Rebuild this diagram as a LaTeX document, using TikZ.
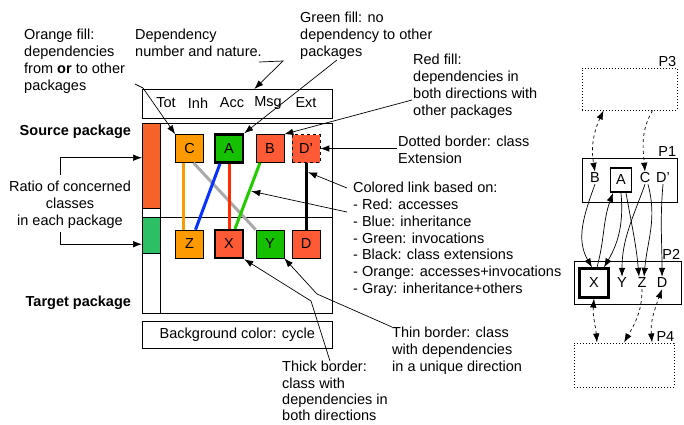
\documentclass[tikz,border=0pt]{standalone}
\usepackage{fontspec}
\setmainfont{Liberation Sans}
\usetikzlibrary{arrows.meta,positioning,calc}
\definecolor{cor}{HTML}{FF9900}
\definecolor{cgr}{HTML}{15C000}
\definecolor{cred}{HTML}{FF5A36}
\definecolor{barred}{HTML}{F5622A}
\definecolor{bargr}{HTML}{2CBF64}
\definecolor{lgray}{HTML}{AAAAAA}
\definecolor{lblue}{HTML}{0A32FF}
\definecolor{lred}{HTML}{FF2A00}
\definecolor{lgreen}{HTML}{22CC00}
\tikzset{
  >={Latex[length=9pt,width=6.5pt]},
  cls/.style={draw,line width=0.6pt,minimum size=28pt,inner sep=0pt},
  tcls/.style={cls,line width=2.4pt},
  xcls/.style={cls,dashed},
  note/.style={align=left,inner sep=0pt,anchor=north west},
  arr/.style={->,line width=0.7pt},
  lnk/.style={line width=3pt},
  pkg/.style={draw,line width=0.7pt},
  dpkg/.style={draw,dotted,line width=1pt},
  dep/.style={->,line width=0.7pt},
  ddep/.style={dep,dashed},
  let/.style={inner sep=1pt},
}
\begin{document}
\begin{tikzpicture}[x=1pt,y=-1pt,every node/.style={font=\fontsize{14.5}{16.8}\selectfont}]
\useasboundingbox (0,0) rectangle (684,424);
% header and frame
\node[pkg,minimum width=190pt,minimum height=29pt,anchor=north west] (hd) at (142,89) {};
\foreach \t/\x in {Tot/166,Inh/198,Acc/232,Msg/268,Ext/306}
  \node (h\t) at (\x,103) {\t};
\draw[pkg] (142,123) rectangle (332,313);
\draw[pkg] (160,123) -- (160,313);
\draw[pkg] (142,217) -- (332,217);
\node[draw,fill=barred,minimum width=18pt,minimum height=85pt,inner sep=0pt,anchor=north west] (rs) at (142,123) {};
\node[draw,fill=bargr,minimum width=18pt,minimum height=36pt,inner sep=0pt,anchor=north west] (rg) at (142,217) {};
\node[pkg,minimum width=190pt,minimum height=27pt,anchor=north west] (bg) at (142,321) {Background color: cycle};
\node[anchor=east,font=\fontsize{14.5}{17}\selectfont\bfseries] (src) at (134.5,132) {Source package};
\node[anchor=east,font=\fontsize{14.5}{17}\selectfont\bfseries] (tgt) at (134.5,303) {Target package};
% classes
\node[cls,fill=cor] (C) at (189.5,148.5) {C};
\node[tcls,fill=cgr] (A) at (229,148.5) {A};
\node[cls,fill=cred] (B) at (270,148.5) {B};
\node[xcls,fill=cred] (Dp) at (306,148.5) {D'};
\node[cls,fill=cor] (Z) at (189.5,244) {Z};
\node[tcls,fill=cred] (X) at (229,244) {X};
\node[cls,fill=cgr] (Y) at (270,244) {Y};
\node[cls,fill=cred] (D) at (306,244) {D};
% links
\draw[lnk,lgray] ([xshift=4pt]C.south) -- (Y.north west);
\draw[lnk,cor] ([xshift=-6pt]C.south) -- ([xshift=-6pt]Z.north);
\draw[lnk,lblue] ([xshift=-9pt]A.south) -- ([xshift=6pt]Z.north);
\draw[lnk,lred] (A.south) -- (X.north);
\draw[lnk,lgreen] ([xshift=-10pt]B.south) -- coordinate[pos=.43] (kg) ([xshift=6pt]X.north);
\draw[lnk,black] (Dp.south) -- coordinate[pos=.14] (kb) (D.north);
% notes
\node[note] (nor) at (24,29) {Orange fill:\\dependencies\\from \textbf{or} to other\\packages};
\node[note] (ndep) at (135,29) {Dependency\\number and nature.};
\node[note] (ngr) at (300,12) {Green fill: no\\dependency to other\\packages};
\node[note] (nred) at (413,54) {Red fill:\\dependencies in\\both directions with\\other packages};
\node[note] (ndot) at (398,136) {Dotted border: class\\Extension};
\node[note] (nlnk) at (353,182) {Colored link based on:\\- Red: accesses\\- Blue: inheritance\\- Green: invocations\\- Black: class extensions\\- Orange: accesses+invocations\\- Gray: inheritance+others};
\node[note] (nthin) at (392,327) {Thin border: class\\with dependencies\\in a unique direction};
\node[note,font=\fontsize{14.5}{16.4}\selectfont] (nthk) at (282,361) {Thick border:\\class with\\dependencies in\\both directions};
\node[align=center,inner sep=0pt,anchor=north] (nrat) at (70,181) {Ratio of concerned\\classes\\in each package};
% note tails
\coordinate (t1) at (135,84);
\coordinate (t2) at (259,62);
\coordinate (t3) at (337,60);
\coordinate (t4) at (412,100);
\coordinate (t5) at (397,148.5);
\coordinate (t6) at (347,188);
\coordinate (t7) at (347,212);
\coordinate (t8) at (392,327);
\coordinate (t9) at (330,361);
\coordinate (r1) at (60,175);
\coordinate (r2) at (60,232);
\draw[arr] (t1) -- (143,88) -- (C.north west);
\draw[arr] (t2) -- (283,61) -- ([xshift=17pt]hd.north);
\draw[arr] (t3) -- (A.north east);
\draw[arr] (t4) -- (B.north east);
\draw[arr] (t5) -- (Dp.east);
\draw[arr] (t6) -- ([xshift=2pt]kb);
\draw[arr] (t7) -- ([xshift=2pt]kg);
\draw[arr] (t8) -- (317,294) -- (Y.south east);
\draw[arr] (t9) -- (311,301) -- (X.south east);
\draw[arr] (r1) |- ([yshift=8pt]rs.west);
\draw[arr] (r2) |- ([yshift=-9pt]rg.west);
% packages view
\node[dpkg,minimum width=95pt,minimum height=42pt] (p3) at (629.5,89) {};
\node[anchor=south east,inner sep=1pt] (lp3) at (p3.north east) {P3};
\node[pkg,minimum width=95pt,minimum height=44pt] (p1) at (629.5,180) {};
\node[anchor=south east,inner sep=1pt] (lp1) at (p1.north east) {P1};
\node[pkg,minimum width=107pt,minimum height=43pt] (p2) at (627.5,282.5) {};
\node[anchor=south east,inner sep=1pt] (lp2) at (p2.north east) {P2};
\node[dpkg,minimum width=100pt,minimum height=44pt] (p4) at (624,365) {};
\node[anchor=south east,inner sep=1pt] (lp4) at ([xshift=1pt]p4.north east) {P4};
\node[let] (qB) at (595,178) {B};
\node[draw,line width=1.8pt,minimum width=21pt,minimum height=24pt,inner sep=0pt] (qA) at (621,180) {A};
\node[let] (qC) at (645,178) {C};
\node[let] (qDp) at (663,178) {D'};
\node[draw,line width=2.2pt,minimum size=29pt,inner sep=0pt] (qX) at (594,283) {X};
\node[let] (qY) at (622,283) {Y};
\node[let] (qZ) at (642,283) {Z};
\node[let] (qD) at (662,283) {D};
\draw[ddep,<->] ([xshift=-26pt]p3.south) to[out=-115,in=100] (qB.north);
\draw[ddep] ([xshift=23pt]p3.south) to[out=-120,in=95] (qC.north);
\draw[ddep,<->] (qX.south) to[out=-95,in=95] ([xshift=-27pt]p4.north);
\draw[ddep] (qZ.south) to[out=-90,in=60] (p4.north);
\draw[ddep,<->] ([xshift=28pt]p4.north) to[out=95,in=-110] (qD.south);
\draw[dep] (qB.south) to[out=-110,in=120] ([xshift=-2pt]qX.north);
\draw[dep] ([xshift=3pt]qX.north) to[out=75,in=-110] ([xshift=-8pt]qA.south);
\draw[dep] (qA.south) to[out=-85,in=60] ([xshift=10pt]qX.north);
\draw[dep] ([xshift=5pt]qA.south) to[out=-80,in=95] ([xshift=-3pt]qZ.north);
\draw[dep] (qC.south) to[out=-110,in=90] (qY.north);
\draw[dep] ([xshift=3pt]qC.south) to[out=-75,in=85] ([xshift=2pt]qZ.north);
\draw[dep] (qDp.south) to[out=-95,in=90] (qD.north);
\end{tikzpicture}
\end{document}
